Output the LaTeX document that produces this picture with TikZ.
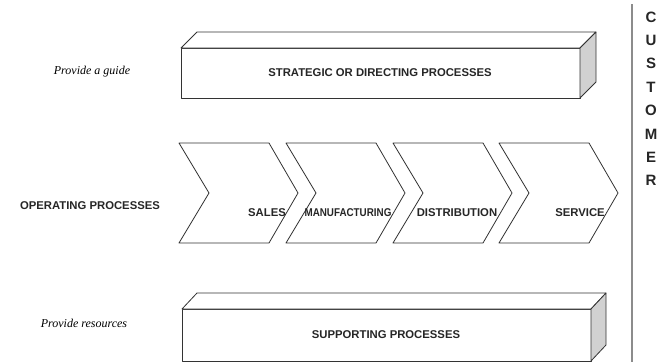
\documentclass[tikz,border=0pt]{standalone}
\usepackage{fontspec}
\setmainfont{Liberation Serif}
\setsansfont{Liberation Sans}
\begin{document}
\begin{tikzpicture}
[x=1pt,y=-1pt,
  faceDecorate/.style={draw=black!80,line width=0.8pt,fill=white,line join=round},
  sideDecorate/.style={faceDecorate,fill=black!18},
  capsText/.style={font=\sffamily\bfseries\fontsize{11.3}{13}\selectfont,text=black!85,inner sep=0pt},
  letterText/.style={font=\sffamily\bfseries\fontsize{15}{17}\selectfont,text=black!85,inner sep=0pt},
  noteText/.style={font=\itshape\fontsize{12}{14}\selectfont,inner sep=0pt}]
\useasboundingbox (0,0) rectangle (669,362);
%% strategic box
\path[faceDecorate] (181,48) rectangle (580,98);
\path[faceDecorate] (181,48) -- (197,32) -- (596,32) -- (580,48) -- cycle;
\path[sideDecorate] (580,48) -- (596,32) -- (596,82) -- (580,98) -- cycle;
\node (strategic) at (380,73) [capsText] {STRATEGIC OR DIRECTING PROCESSES};
%% supporting box
\path[faceDecorate] (182,309) rectangle (591,361);
\path[faceDecorate] (182,309) -- (197,293) -- (606,293) -- (591,309) -- cycle;
\path[sideDecorate] (591,309) -- (606,293) -- (606,345) -- (591,361) -- cycle;
\node (supporting) at (386,335) [capsText] {SUPPORTING PROCESSES};
%% chevrons
\foreach \x in {179,286,393,499}
{
  \path[faceDecorate] (\x,143) -- ++(90,0) -- ++(29,50) -- ++(-29,50)
    -- ++(-90,0) -- ++(30,-50) -- cycle;
}
\foreach \nodename/\x/\label in {
  sales/267/SALES, manufacturing/348/\scalebox{0.87}[1]{MANUFACTURING},
  distribution/457/DISTRIBUTION, service/580/SERVICE}
{
  \node (\nodename) at (\x,213) [capsText] {\label};
}
%% side texts
\node (guide) at (92,72) [noteText] {Provide a guide};
\node (operating) at (90,206) [capsText] {OPERATING PROCESSES};
\node (resources) at (84,323) [noteText] {Provide resources};
%% customer
\coordinate (lineTop) at (632,4);
\coordinate (lineBottom) at (632,362);
\draw[black!45,line width=1.5pt] (lineTop) -- (lineBottom);
\foreach \letter [count=\i from 0] in {C,U,S,T,O,M,E,R}
{
  \node (customer\i) at (651,17+23.4*\i) [letterText] {\letter};
}
\end{tikzpicture}
\end{document}
